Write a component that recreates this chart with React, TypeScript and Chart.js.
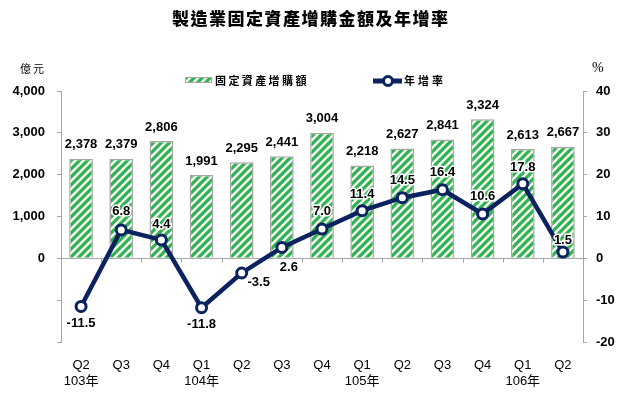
import React, { useEffect, useRef } from 'react';
import { Chart, registerables } from 'chart.js';

Chart.register(...registerables);

const quarters = ['Q2', 'Q3', 'Q4', 'Q1', 'Q2', 'Q3', 'Q4', 'Q1', 'Q2', 'Q3', 'Q4', 'Q1', 'Q2'];
const years = ['103年', '', '', '104年', '', '', '', '105年', '', '', '', '106年', ''];
const amounts = [2378, 2379, 2806, 1991, 2295, 2441, 3004, 2218, 2627, 2841, 3324, 2613, 2667];
const growth = [-11.5, 6.8, 4.4, -11.8, -3.5, 2.6, 7.0, 11.4, 14.5, 16.4, 10.6, 17.8, 1.5];

const titleText = '製造業固定資產增購金額及年增率';
const barLegend = '固定資產增購額';
const lineLegend = '年增率';
const leftUnit = '億元';
const rightUnit = '%';

// label placement offsets (dx, dy) for the growth labels
const growthLabelOffsets: [number, number][] = [
  [0, 17], [0, -18], [0, -16], [0, 17], [17, 9], [7, 20], [0, -18],
  [0, -16], [0, -17], [0, -17], [0, -18], [0, -16], [0, -12],
];

const NAVY = '#0b2260';
const GREEN = '#2db44c';
const GRAY = '#a6a6a6';
const LATIN = "'Liberation Sans', 'Noto Sans CJK TC', sans-serif";
const CJK = "'Noto Sans CJK TC', sans-serif";

function makePattern(ctx: CanvasRenderingContext2D) {
  const c = document.createElement('canvas');
  c.width = 8;
  c.height = 8;
  const p = c.getContext('2d')!;
  p.fillStyle = '#ffffff';
  p.fillRect(0, 0, 8, 8);
  p.strokeStyle = GREEN;
  p.lineWidth = 3.2;
  p.lineCap = 'square';
  p.beginPath();
  p.moveTo(-1, 9);
  p.lineTo(9, -1);
  p.moveTo(-1, 1);
  p.lineTo(1, -1);
  p.moveTo(7, 9);
  p.lineTo(9, 7);
  p.stroke();
  return ctx.createPattern(c, 'repeat')!;
}

// draw text one glyph at a time with a fixed advance
function spaced(ctx: CanvasRenderingContext2D, text: string, x: number, y: number, step: number) {
  Array.from(text).forEach((ch, i) => ctx.fillText(ch, x + i * step, y));
}

export default function App() {
  const ref = useRef<HTMLCanvasElement | null>(null);

  useEffect(() => {
    const canvas = ref.current!;
    const ctx0 = canvas.getContext('2d')!;
    const pattern = makePattern(ctx0);

    const decor = {
      id: 'decor',
      beforeDatasetsDraw(chart: any) {
        const { ctx, chartArea, scales } = chart;
        const y0 = Math.round(scales.y.getPixelForValue(0)) + 0.5;
        ctx.save();
        ctx.strokeStyle = GRAY;
        ctx.lineWidth = 1;
        ctx.beginPath();
        ctx.moveTo(chartArea.left, y0);
        ctx.lineTo(chartArea.right, y0);
        const x = scales.x;
        const n = quarters.length;
        for (let i = 1; i < n; i++) {
          const px = Math.round((x.getPixelForValue(i - 1) + x.getPixelForValue(i)) / 2) + 0.5;
          ctx.moveTo(px, y0);
          ctx.lineTo(px, y0 + 4);
        }
        ctx.stroke();
        ctx.restore();
      },
      afterDatasetsDraw(chart: any) {
        const { ctx } = chart;
        ctx.save();
        const barMeta = chart.getDatasetMeta(0);
        ctx.font = `bold 13px ${LATIN}`;
        ctx.textAlign = 'center';
        ctx.textBaseline = 'middle';
        ctx.fillStyle = '#000';
        barMeta.data.forEach((el: any, i: number) => {
          ctx.fillText(amounts[i].toLocaleString('en-US'), el.x, el.y - 14);
        });
        const lineMeta = chart.getDatasetMeta(1);
        lineMeta.data.forEach((el: any, i: number) => {
          const [dx, dy] = growthLabelOffsets[i];
          const t = growth[i].toFixed(1);
          ctx.lineWidth = 3;
          ctx.strokeStyle = '#ffffff';
          ctx.lineJoin = 'round';
          ctx.strokeText(t, el.x + dx, el.y + dy);
          ctx.fillText(t, el.x + dx, el.y + dy);
        });
        ctx.restore();
      },
      afterDraw(chart: any) {
        const { ctx } = chart;
        ctx.save();
        ctx.fillStyle = '#000';
        ctx.textBaseline = 'middle';
        ctx.textAlign = 'left';
        // title
        ctx.font = `900 17px ${CJK}`;
        spaced(ctx, titleText, 172, 19, 18.5);
        // units
        ctx.font = `11px ${CJK}`;
        spaced(ctx, leftUnit, 20, 69, 13);
        ctx.font = `14px 'Liberation Serif', serif`;
        ctx.fillText(rightUnit, 592, 68);
        // legend: bars
        ctx.fillStyle = pattern;
        ctx.fillRect(185, 78, 27, 5);
        ctx.strokeStyle = GRAY;
        ctx.lineWidth = 1;
        ctx.strokeRect(185.5, 77.5, 26, 5);
        ctx.fillStyle = '#000';
        ctx.font = `bold 11px ${CJK}`;
        spaced(ctx, barLegend, 215, 81, 13.4);
        // legend: line
        ctx.strokeStyle = NAVY;
        ctx.lineWidth = 5;
        ctx.beginPath();
        ctx.moveTo(373, 81);
        ctx.lineTo(402, 81);
        ctx.stroke();
        ctx.beginPath();
        ctx.arc(388, 81, 4.5, 0, Math.PI * 2);
        ctx.fillStyle = '#fff';
        ctx.fill();
        ctx.lineWidth = 3;
        ctx.stroke();
        ctx.fillStyle = '#000';
        spaced(ctx, lineLegend, 404, 81, 14);
        ctx.restore();
      },
    };

    const labels = quarters.map((q, i) => (years[i] ? [q, years[i]] : q));

    const chart = new Chart(canvas, {
      type: 'bar',
      data: {
        labels,
        datasets: [
          {
            type: 'bar',
            label: barLegend,
            data: amounts,
            yAxisID: 'y',
            backgroundColor: pattern as any,
            borderColor: GRAY,
            borderWidth: 1.5,
            categoryPercentage: 1,
            barPercentage: 0.59,
            order: 1,
          },
          {
            type: 'line',
            label: lineLegend,
            data: growth,
            yAxisID: 'y1',
            borderColor: NAVY,
            borderWidth: 4.5,
            pointRadius: 5,
            pointBorderWidth: 3,
            pointBackgroundColor: '#ffffff',
            pointBorderColor: NAVY,
            tension: 0,
            order: 0,
          } as any,
        ],
      },
      options: {
        responsive: false,
        animation: false,
        layout: { padding: { top: 91, left: 0, right: 0, bottom: 0 } },
        plugins: {
          legend: { display: false },
          title: { display: false },
          tooltip: { enabled: false },
        },
        scales: {
          x: {
            offset: true,
            grid: { display: false },
            border: { display: false },
            ticks: {
              padding: 8,
              color: '#000',
              maxRotation: 0,
              autoSkip: false,
              font: { family: LATIN, size: 13 },
            },
            afterFit: (s: any) => {
              s.height = 53;
            },
          },
          y: {
            position: 'left',
            min: -2000,
            max: 4000,
            ticks: {
              stepSize: 1000,
              padding: 12,
              color: '#000',
              font: { family: LATIN, size: 13, weight: 'bold' },
              callback: (v: any) => (Number(v) >= 0 ? Number(v).toLocaleString('en-US') : ''),
            },
            grid: { drawOnChartArea: false, tickLength: 4, color: GRAY },
            border: { color: GRAY },
            afterFit: (s: any) => {
              s.width = 61;
            },
          },
          y1: {
            position: 'right',
            min: -20,
            max: 40,
            ticks: {
              stepSize: 10,
              padding: 9,
              color: '#000',
              font: { family: LATIN, size: 13, weight: 'bold' },
            },
            grid: { drawOnChartArea: false, tickLength: 4, color: GRAY },
            border: { color: GRAY },
            afterFit: (s: any) => {
              s.width = 54;
            },
          },
        },
      } as any,
      plugins: [decor],
    });

    return () => chart.destroy();
  }, []);

  return (
    <div style={{ position: 'absolute', left: 0, top: 0, width: 637, height: 395, background: '#fff' }}>
      <canvas ref={ref} width={637} height={395} style={{ width: 637, height: 395 }} />
    </div>
  );
}
